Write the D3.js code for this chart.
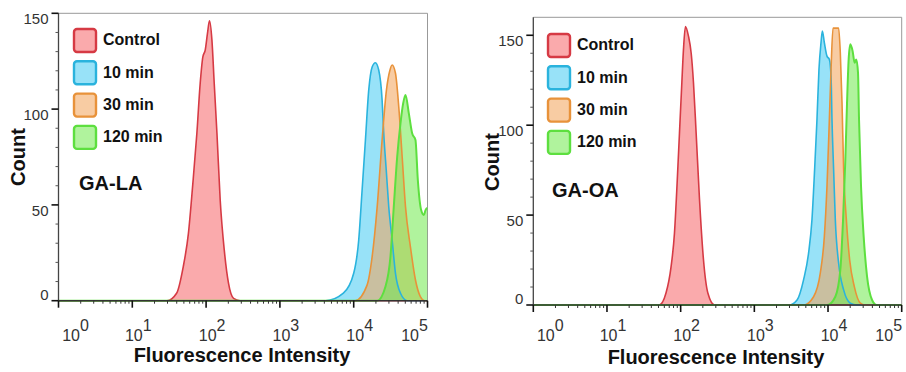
<!DOCTYPE html>
<html lang="en">
<head>
<meta charset="UTF-8">
<style>
  body { margin: 0; background: #fff; }
  svg { display: block; font-family: "Liberation Sans", Arial, sans-serif; }
  .tick-label { font-size: 15px; fill: #333; }
  .x-label { font-size: 16px; fill: #333; }
  .legend-text { font-size: 16px; font-weight: bold; fill: #111; }
  .title { font-size: 20px; font-weight: bold; fill: #111; }
</style>
<script src="https://d3js.org/d3.v7.min.js"></script>
</head>
<body>
<div id="chart"></div>
<script>
// legend entries, also the drawing order
var seriesNames = ["Control", "10 min", "30 min", "120 min"];
var strokeColors = ["#d63a44", "#2ab3dd", "#e8923a", "#5ddf3f"];
var fillColors = ["#f56467", "#44cbf3", "#f3a357", "#70e94d"];

// histograms: [log10 intensity, count]
var laControl = [[0,0],[1.47,0],[1.60,3.9],[1.69,17.7],[1.76,35],[1.82,61],[1.875,87.4],[1.92,113.5],[1.956,127.3],[1.988,130.8],[2.019,139.6],[2.046,146.1],[2.079,136],[2.11,113.5],[2.147,87.4],[2.191,52.6],[2.246,26.5],[2.304,9],[2.372,1.2],[2.46,0],[5,0]];
var la10 = [[0,0],[3.62,0],[3.86,3.9],[4.0,14.3],[4.068,31.7],[4.114,57.8],[4.159,83.9],[4.204,110],[4.25,122],[4.294,124.2],[4.339,120.4],[4.385,104.7],[4.407,87.4],[4.444,66.5],[4.475,49],[4.521,31.7],[4.566,14.3],[4.634,3.9],[4.725,0],[5,0]];
var la30 = [[0,0],[4.02,0],[4.18,8],[4.25,23],[4.318,49],[4.385,84],[4.444,110],[4.489,120],[4.521,123],[4.566,118.7],[4.611,101],[4.657,75],[4.702,49],[4.769,28],[4.837,10.8],[4.905,2],[4.96,0],[5,0]];
var la120 = [[0,0],[4.32,0],[4.43,7.3],[4.498,23],[4.543,49],[4.589,75],[4.634,92.6],[4.67,103],[4.702,107.4],[4.747,97.8],[4.792,87.4],[4.837,83.9],[4.869,63],[4.914,47.3],[4.95,44.7],[4.973,47.3],[5,48.4]];

var oaControl = [[0,0],[1.71,0],[1.80,6.5],[1.87,21.3],[1.916,40],[1.952,67.8],[1.984,95.7],[2.016,123.6],[2.038,142],[2.065,154.8],[2.106,149.5],[2.143,140],[2.174,123.6],[2.21,95.7],[2.256,58.5],[2.31,25],[2.37,6.5],[2.46,0],[5,0]];
var oa10 = [[0,0],[3.47,0],[3.58,2.8],[3.668,14],[3.736,28.8],[3.782,47.4],[3.818,75.3],[3.85,103],[3.877,131],[3.905,145.9],[3.923,152.4],[3.95,145.9],[3.986,138.4],[4.018,136.6],[4.041,127.3],[4.054,103],[4.076,75.3],[4.099,47.4],[4.144,23.2],[4.212,8.4],[4.303,1],[4.39,0],[5,0]];
var oa30 = [[0,0],[3.67,0],[3.804,4.6],[3.895,17.7],[3.95,38],[3.986,66],[4.018,103],[4.041,131],[4.068,154],[4.144,154],[4.167,140],[4.19,112.4],[4.212,75.3],[4.249,47.4],[4.294,25],[4.357,10.2],[4.439,1],[4.5,0],[5,0]];
var oa120 = [[0,0],[3.99,0],[4.099,4.6],[4.167,19.5],[4.204,47.4],[4.235,80.8],[4.258,112.4],[4.28,136.6],[4.303,145],[4.334,141.2],[4.361,134.7],[4.384,136.6],[4.407,129.2],[4.421,103],[4.448,66],[4.484,38],[4.53,15.8],[4.598,2.8],[4.66,0],[5,0]];

var yTicks = [0, 50, 100, 150];
var xDecades = [0, 1, 2, 3, 4, 5];

var panels = [
    { name: "GA-LA", series: [laControl, la10, la30, la120], yMax: 150,
      left: 58.5, right: 427.5, top: 13.3, bottom: 300.7,
      legendX: 74, legendY: 29, tagX: 79, tagY: 190,
      countX: 20, countY: 157, titleX: 242, titleY: 362, xLabelY: 341 },
    { name: "GA-OA", series: [oaControl, oa10, oa30, oa120], yMax: 160,
      left: 533.3, right: 901.7, top: 17.3, bottom: 305,
      legendX: 548, legendY: 34, tagX: 552, tagY: 197,
      countX: 494, countY: 162, titleX: 716, titleY: 364, xLabelY: 341 }
];

var svg = d3.select("#chart").append("svg")
    .attr("width", 906)
    .attr("height", 372);

panels.forEach(function (p, pi) {
    var x = d3.scaleLog().domain([1, 1e5]).range([p.left, p.right]);
    var y = d3.scaleLinear().domain([0, p.yMax]).range([p.bottom, p.top]);
    var g = svg.append("g");

    var clipId = "clip" + pi;
    svg.append("clipPath").attr("id", clipId)
        .append("rect")
        .attr("x", p.left).attr("y", p.top - 2)
        .attr("width", p.right - p.left).attr("height", p.bottom - p.top + 3);

    // frame
    g.append("line").attr("x1", p.left).attr("x2", p.right).attr("y1", p.top).attr("y2", p.top)
        .attr("stroke", "#999").attr("stroke-width", 1);
    g.append("line").attr("x1", p.right).attr("x2", p.right).attr("y1", p.top).attr("y2", p.bottom)
        .attr("stroke", "#999").attr("stroke-width", 1);

    var area = d3.area()
        .x(function (d) { return x(Math.pow(10, d[0])); })
        .y0(y(0))
        .y1(function (d) { return y(d[1]); })
        .curve(d3.curveMonotoneX);
    var line = area.lineY1();

    var plot = g.append("g").attr("clip-path", "url(#" + clipId + ")");
    p.series.forEach(function (s, i) {
        plot.append("path").datum(s)
            .attr("d", area)
            .attr("fill", fillColors[i])
            .attr("fill-opacity", 0.55);
    });
    p.series.forEach(function (s, i) {
        plot.append("path").datum(s)
            .attr("d", line)
            .attr("fill", "none")
            .attr("stroke", strokeColors[i])
            .attr("stroke-width", i == 3 ? 2 : 1.6)
            .attr("stroke-linejoin", "round");
    });

    // y axis
    g.append("line").attr("x1", p.left).attr("x2", p.left).attr("y1", p.top).attr("y2", p.bottom)
        .attr("stroke", "#444").attr("stroke-width", 1.3);
    d3.range(0, 151, 10).forEach(function (v) {
        var major = v % 50 == 0;
        g.append("line")
            .attr("x1", p.left - (major ? 7 : 3)).attr("x2", p.left)
            .attr("y1", y(v)).attr("y2", y(v))
            .attr("stroke", major ? "#111" : "#555")
            .attr("stroke-width", major ? 1.6 : 1);
    });
    yTicks.forEach(function (v) {
        g.append("text").attr("class", "tick-label")
            .attr("x", p.left - 10)
            .attr("y", y(v) + (v == 0 ? -5 : 7))
            .attr("text-anchor", "end")
            .attr("dominant-baseline", "middle")
            .text(v);
    });

    // x axis
    g.append("line").attr("x1", p.left).attr("x2", p.right).attr("y1", p.bottom).attr("y2", p.bottom)
        .attr("stroke", "#333").attr("stroke-width", 1.5);
    xDecades.forEach(function (d) {
        g.append("line")
            .attr("x1", x(Math.pow(10, d))).attr("x2", x(Math.pow(10, d)))
            .attr("y1", p.bottom).attr("y2", p.bottom + 7)
            .attr("stroke", "#111").attr("stroke-width", 1.6);
        if (d < 5) {
            d3.range(2, 10).forEach(function (k) {
                var v = k * Math.pow(10, d);
                g.append("line")
                    .attr("x1", x(v)).attr("x2", x(v))
                    .attr("y1", p.bottom).attr("y2", p.bottom + 3)
                    .attr("stroke", "#333").attr("stroke-width", 1);
            });
        }
        // labels sit a bit right of the tick, kept inside the frame at both ends
        var lx = Math.max(p.left + 17, Math.min(p.right - 13, x(Math.pow(10, d)) + 6));
        var t = g.append("text").attr("class", "x-label")
            .attr("x", lx).attr("y", p.xLabelY)
            .attr("text-anchor", "middle");
        t.append("tspan").text("10");
        t.append("tspan").attr("dy", -10).text(d);
    });

    // axis titles
    g.append("text").attr("class", "title")
        .attr("x", p.titleX).attr("y", p.titleY)
        .attr("text-anchor", "middle")
        .text("Fluorescence Intensity");
    g.append("text").attr("class", "title")
        .attr("transform", "translate(" + p.countX + "," + p.countY + ")rotate(-90)")
        .attr("text-anchor", "middle")
        .attr("dominant-baseline", "middle")
        .text("Count");

    // legend
    seriesNames.forEach(function (name, i) {
        var ly = p.legendY + i * 32.3;
        g.append("rect")
            .attr("x", p.legendX).attr("y", ly)
            .attr("width", 22).attr("height", 23)
            .attr("rx", 3)
            .attr("fill", fillColors[i]).attr("fill-opacity", 0.55)
            .attr("stroke", strokeColors[i]).attr("stroke-width", 2.4);
        g.append("text").attr("class", "legend-text")
            .attr("x", p.legendX + 29).attr("y", ly + 12)
            .attr("dominant-baseline", "middle")
            .text(name);
    });

    g.append("text").attr("class", "title")
        .attr("x", p.tagX).attr("y", p.tagY)
        .text(p.name);
});
</script>
</body>
</html>
